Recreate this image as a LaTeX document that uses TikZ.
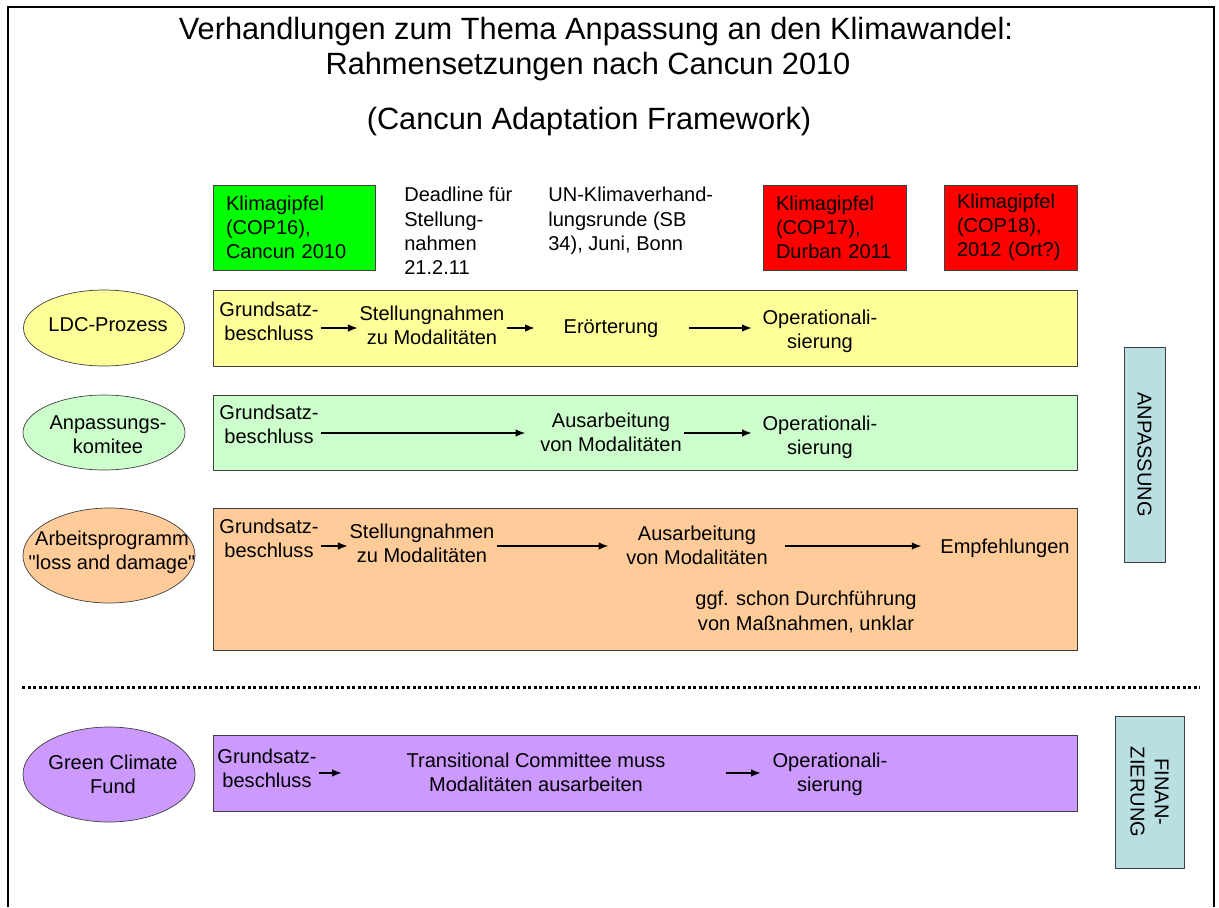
\documentclass[tikz,border=0pt]{standalone}
\usepackage{fontspec}
\setmainfont{Liberation Sans}
\usepackage{tikz}
\usetikzlibrary{shapes,arrows,arrows.meta}
\definecolor{gipfelgruen}{HTML}{00FF00}
\definecolor{gipfelrot}{HTML}{FF0000}
\definecolor{ldcgelb}{HTML}{FFFF99}
\definecolor{komiteegruen}{HTML}{CCFFCC}
\definecolor{lossorange}{HTML}{FFCC99}
\definecolor{fondslila}{HTML}{CC99FF}
\definecolor{bereichblau}{HTML}{BADFE3}
\tikzset{
   txt/.style={font=\fontsize{11.4}{13.8}\selectfont, align=center, inner sep=1pt},
   titel/.style={font=\fontsize{17.5}{20}\selectfont, inner sep=0pt},
   gipfel/.style={txt, draw=black!75, align=left, minimum height=17mm, inner xsep=2.6mm},
   termin/.style={txt, align=left, anchor=north west, inner sep=0pt},
   zeile/.style={draw=black!75, rectangle, minimum width=172.8mm, inner sep=0pt},
   oval/.style={draw=black!75, ellipse, inner sep=0pt},
   bereich/.style={txt, draw=black!75, fill=bereichblau, rotate=-90},
   pfeil/.style={-{Latex[length=1.9mm, width=1.5mm]}, line width=0.7pt},
   rahmen/.style={line width=1.1pt},
   trenner/.style={line width=0.6mm, dash pattern=on 0.6mm off 0.5mm}
}

\begin{document}
\begin{tikzpicture}[x=0.2mm,y=-0.2mm]
\useasboundingbox (0,0) rectangle (1219,907);
\draw[rahmen] (8,907) -- (8,7) -- (1214,7) -- (1214,907);

% Titel
\node[titel] (titel1) at (596,32) {Verhandlungen zum Thema Anpassung an den Klimawandel:};
\node[titel] (titel2) at (588,67) {Rahmensetzungen nach Cancun 2010};
\node[titel] (titel3) at (589,122) {(Cancun Adaptation Framework)};

% Zeitleiste
\node[gipfel, fill=gipfelgruen, minimum width=32.4mm, text width=27.2mm] (cop16) at (294,227.5) {Klimagipfel\\(COP16),\\Cancun 2010};
\node[termin] (frist) at (404,187) {Deadline für\\Stellung-\\nahmen\\21.2.11};
\node[termin] (sb34) at (548,187) {UN-Klimaverhand-\\lungsrunde (SB\\34), Juni, Bonn};
\node[gipfel, fill=gipfelrot, minimum width=28.6mm, text width=23.4mm] (cop17) at (834.5,227.5) {Klimagipfel\\(COP17),\\Durban 2011};
\node[gipfel, fill=gipfelrot, minimum width=26.6mm, text width=21.4mm] (cop18) at (1010.5,227.5) {Klimagipfel\\(COP18),\\2012 (Ort?)};

% LDC-Prozess
\node[oval, fill=ldcgelb, minimum width=32.2mm, minimum height=15.2mm] (ldc) at (104,328) {};
\node[txt] (ldcT) at (108,325) {LDC-Prozess};
\node[zeile, fill=ldcgelb, minimum height=15.2mm] (ldcbox) at (645,328) {};
\node[txt] (g1) at (269,321) {Grundsatz-\\beschluss};
\node[txt] (s1) at (432,325) {Stellungnahmen\\zu Modalitäten};
\node[txt] (e1) at (611,329) {Erörterung};
\node[txt] (o1) at (820,331) {Operationali-\\sierung};

% Anpassungskomitee
\node[oval, fill=komiteegruen, minimum width=32.4mm, minimum height=15mm] (ak) at (104,432.5) {};
\node[txt] (akT) at (108,435) {Anpassungs-\\komitee};
\node[zeile, fill=komiteegruen, minimum height=15mm] (akbox) at (645,432.5) {};
\node[txt] (g2) at (269,424) {Grundsatz-\\beschluss};
\node[txt] (au2) at (611,432) {Ausarbeitung\\von Modalitäten};
\node[txt] (o2) at (820,437) {Operationali-\\sierung};

% loss and damage
\node[oval, fill=lossorange, minimum width=34.4mm, minimum height=19mm] (ld) at (109,555.5) {};
\node[txt] (ldT) at (112,552) {Arbeitsprogramm\\\textquotedbl loss and damage\textquotedbl};
\node[zeile, fill=lossorange, minimum height=28.4mm] (ldbox) at (645,579) {};
\node[txt] (g3) at (269,538) {Grundsatz-\\beschluss};
\node[txt] (s3) at (422,543) {Stellungnahmen\\zu Modalitäten};
\node[txt] (au3) at (697,545) {Ausarbeitung\\von Modalitäten};
\node[txt] (emp) at (1005,548) {Empfehlungen};
\node[txt] (ggf) at (806,612) {ggf. schon Durchführung\\von Maßnahmen, unklar};

% Trennlinie
\draw[trenner] (22,687) -- (1200,687);

% Green Climate Fund
\node[oval, fill=fondslila, minimum width=34.4mm, minimum height=19mm] (gcf) at (109,774.5) {};
\node[txt] (gcfT) at (113,774) {Green Climate\\Fund};
\node[zeile, fill=fondslila, minimum height=15.2mm] (gcfbox) at (645,773) {};
\node[txt] (g4) at (267,768) {Grundsatz-\\beschluss};
\node[txt] (tc) at (536,772) {Transitional Committee muss\\Modalitäten ausarbeiten};
\node[txt] (o4) at (830,774) {Operationali-\\sierung};

% Bereiche
\node[bereich, minimum width=43mm, minimum height=8.2mm] (anp) at (1144.5,454.5) {ANPASSUNG};
\node[bereich, minimum width=30.4mm, minimum height=13.8mm] (fin) at (1149.5,792) {FINAN-\\ZIERUNG};

\path[pfeil]
(g1.east |- 0,328) edge (s1.west |- 0,328)
(s1.east |- 0,328) edge[shorten >=5.4mm] (e1.west |- 0,328)
(e1.east |- 0,328) edge[shorten <=5.8mm, shorten >=1.8mm] (o1.west |- 0,328)
(g2.east |- 0,433) edge[shorten >=2.6mm] (au2.west |- 0,433)
(au2.east |- 0,433) edge[shorten >=1.8mm] (o2.west |- 0,433)
(g3.east |- 0,546) edge (s3.west |- 0,546)
(s3.east |- 0,546) edge[shorten >=3.2mm] (au3.west |- 0,546)
(au3.east |- 0,546) edge[shorten <=3mm, shorten >=3.4mm] (emp.west |- 0,546)
(g4.east |- 0,773) edge[shorten >=12.6mm] (tc.west |- 0,773)
(tc.east |- 0,773) edge[shorten <=11.8mm, shorten >=2mm] (o4.west |- 0,773)
      ;

\end{tikzpicture}
\end{document}
